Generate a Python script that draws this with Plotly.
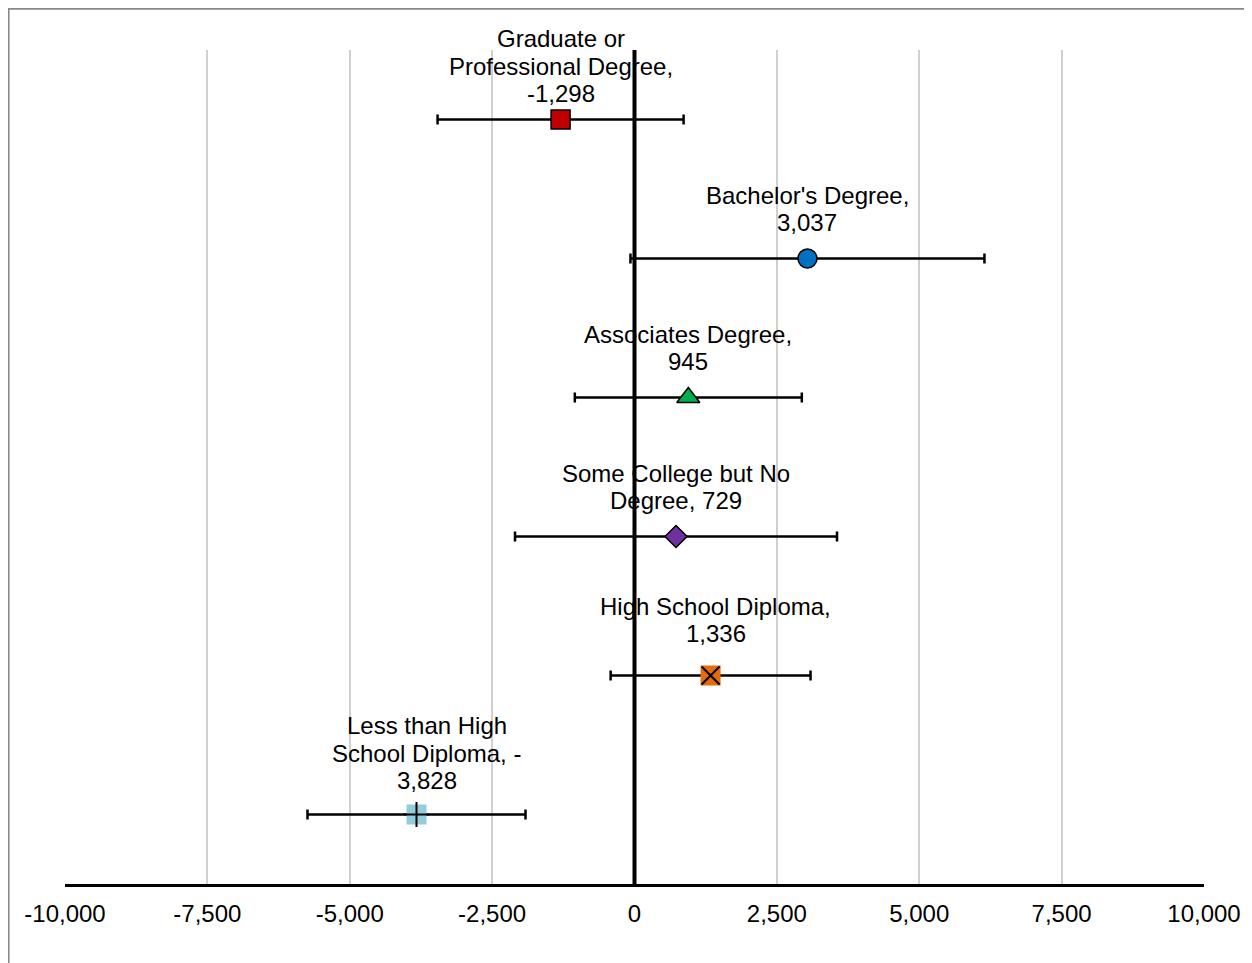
import plotly.graph_objects as go

# ---- data ----
categories = [
    "Graduate or Professional Degree",
    "Bachelor's Degree",
    "Associates Degree",
    "Some College but No Degree",
    "High School Diploma",
    "Less than High School Diploma",
]
values = [-1298, 3037, 945, 729, 1336, -3828]
errors = [2160, 3108, 1993, 2827, 1755, 1914]
label_texts = [
    "Graduate or<br>Professional Degree,<br>-1,298",
    "Bachelor's Degree,<br>3,037",
    "Associates Degree,<br>945",
    "Some College but No<br>Degree, 729",
    "High School Diploma,<br>1,336",
    "Less than High<br>School Diploma, -<br>3,828",
]
tick_vals = [-10000, -7500, -5000, -2500, 0, 2500, 5000, 7500, 10000]
tick_text = ["-10,000", "-7,500", "-5,000", "-2,500", "0", "2,500", "5,000", "7,500", "10,000"]

# ---- style ----
# page body has an 8px margin, so the figure starts at (8, 8)
W, H = 1244, 955
ML, MR, MT, MB = 57, 48, 42, 79
PW, PH = W - ML - MR, H - MT - MB
XMIN, XMAX = -10000, 10000
n = len(categories)

symbols = ["square", "circle", "triangle-up", "diamond", "square", "square"]
colors = ["#C00000", "#0070C0", "#00B050", "#7030A0", "#E46C0A", "#92CDDC"]
sizes = [19, 19, 20, 17, 20, 20]
outline = [1.5, 1.5, 1.5, 1.5, 0, 0]
overlay = [None, None, None, None, "x-thin", "cross-thin"]
label_gap = [26, 36, 36, 36, 42, 34]   # px from marker to last label line
label_dx = [0, 0, 0, 0, 5, 10]          # px horizontal nudge
LINE_H = 27.3
FONT = "Liberation Sans, Arial, sans-serif"
FS = 24

y_pos = [n - i - 0.5 for i in range(n)]

fig = go.Figure()

for i in range(n):
    fig.add_trace(go.Scatter(
        x=[values[i]], y=[y_pos[i]], mode="markers",
        marker=dict(symbol=symbols[i], size=sizes[i], color=colors[i],
                    line=dict(color="black", width=outline[i])),
        error_x=dict(type="data", array=[errors[i]], symmetric=True,
                     color="black", thickness=2.5, width=5),
        showlegend=False, hoverinfo="skip",
    ))
    if overlay[i]:
        fig.add_trace(go.Scatter(
            x=[values[i]], y=[y_pos[i]], mode="markers",
            marker=dict(symbol=overlay[i], size=sizes[i] - 2, color="black",
                        line=dict(color="black", width=2)),
            showlegend=False, hoverinfo="skip",
        ))

# data labels (each line placed separately for Excel-like line spacing)
for i in range(n):
    lines = label_texts[i].split("<br>")
    m = len(lines)
    for k, ln in enumerate(lines):
        off = label_gap[i] + (m - 1 - k) * LINE_H
        fig.add_annotation(
            x=values[i], y=y_pos[i], xref="x", yref="y", text=ln,
            showarrow=False, xanchor="center", yanchor="middle",
            xshift=label_dx[i], yshift=off,
            font=dict(family=FONT, size=FS, color="black"),
        )

# vertical axis line at x=0
fig.add_shape(type="line", xref="x", yref="paper", x0=0, x1=0, y0=0, y1=1,
              line=dict(color="black", width=4), layer="above")

# chart-area border (extends past right/bottom edges)
fig.add_shape(type="rect", xref="paper", yref="paper",
              x0=-ML / PW + 0.0005, x1=1.2, y0=-0.3, y1=1 + MT / PH - 0.001,
              line=dict(color="#888888", width=2), layer="below")

fig.update_layout(
    width=W, height=H,
    margin=dict(l=ML, r=MR, t=MT, b=MB, pad=0),
    paper_bgcolor="white", plot_bgcolor="white",
    font=dict(family=FONT, size=FS, color="black"),
    showlegend=False,
    xaxis=dict(range=[XMIN, XMAX], tickvals=tick_vals, ticktext=tick_text,
               showgrid=True, gridcolor="#D0D0D0", gridwidth=1.5,
               zeroline=False, showline=True, linecolor="black", linewidth=2.5,
               ticks="", ticklabelstandoff=6,
               tickfont=dict(family=FONT, size=FS, color="black"),
               fixedrange=True),
    yaxis=dict(range=[0, n], showgrid=False, zeroline=False, showline=False,
               showticklabels=False, ticks="", fixedrange=True),
)

fig.write_html("out.html")
